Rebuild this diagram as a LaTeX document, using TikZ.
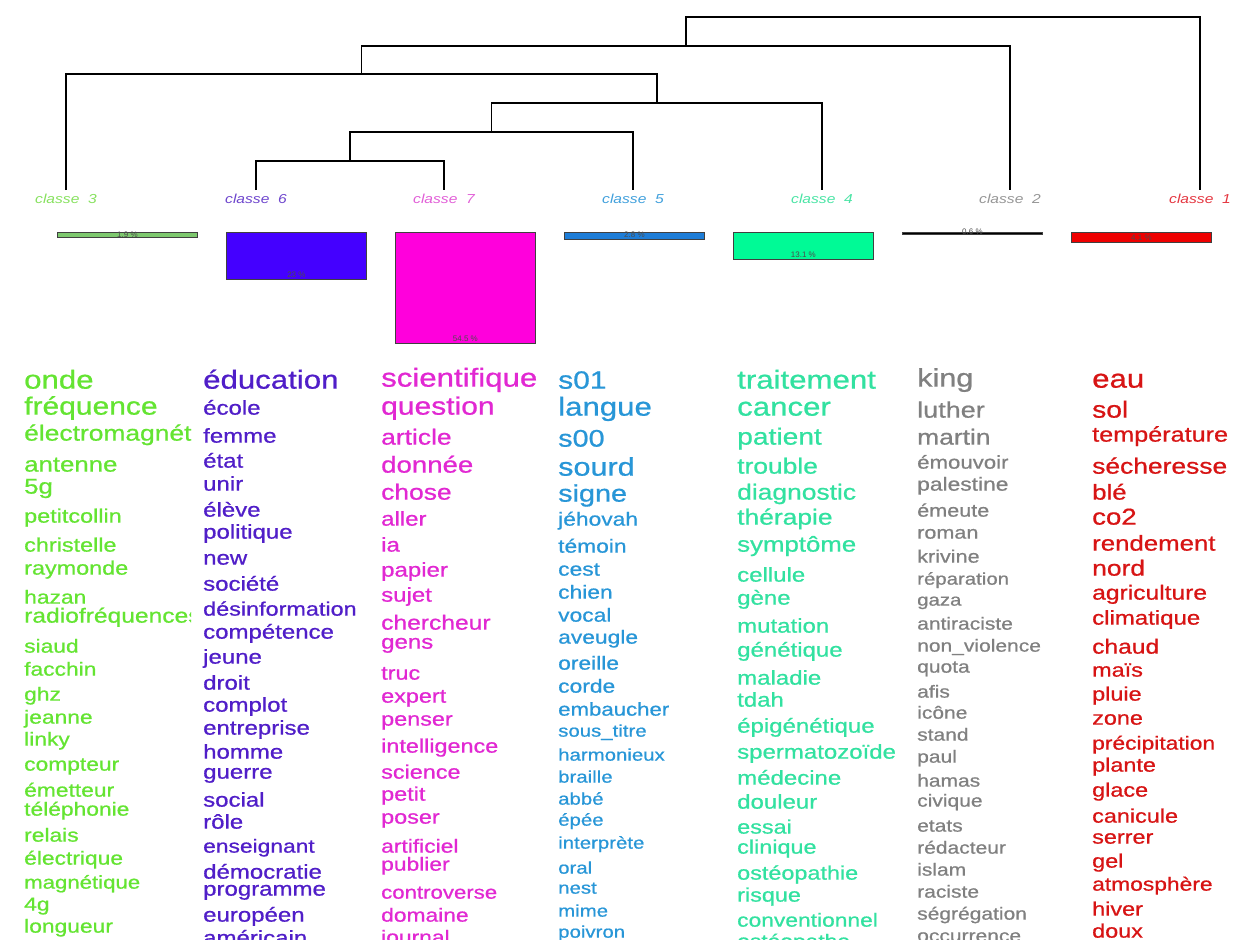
\documentclass[tikz,border=0pt]{standalone}
\usepackage{fontspec}
\setmainfont{Liberation Sans}
\newfontfamily\wfont{Liberation Sans}[FakeBold=0.7]
\definecolor{wc3}{RGB}{100,228,50}
\definecolor{wc6}{RGB}{80,30,200}
\definecolor{wc7}{RGB}{225,40,210}
\definecolor{wc5}{RGB}{40,150,215}
\definecolor{wc4}{RGB}{50,225,160}
\definecolor{wc2}{RGB}{128,128,128}
\definecolor{wc1}{RGB}{215,20,20}
\definecolor{lc3}{RGB}{135,225,95}
\definecolor{lc6}{RGB}{110,70,205}
\definecolor{lc7}{RGB}{225,95,215}
\definecolor{lc5}{RGB}{65,160,220}
\definecolor{lc4}{RGB}{75,228,165}
\definecolor{lc2}{RGB}{150,150,150}
\definecolor{lc1}{RGB}{228,55,65}
\definecolor{bc3}{RGB}{125,200,110}
\definecolor{bc6}{RGB}{68,0,255}
\definecolor{bc7}{RGB}{255,0,220}
\definecolor{bc5}{RGB}{30,125,215}
\definecolor{bc4}{RGB}{0,250,150}
\definecolor{bc1}{RGB}{238,0,0}
\tikzset{
  dend/.style={line width=1.2pt, black},
  word/.style={inner sep=0pt, anchor=mid west, yshift=-5pt},
  clabel/.style={inner sep=0pt, font=\fontsize{13}{13}\selectfont\itshape},
  barbox/.style={draw=black!75, line width=0.8pt, minimum width=140pt, inner sep=0pt, anchor=north west},
  pct/.style={inner sep=0pt, text=black!70, font=\fontsize{8}{8}\selectfont}
}
\newcommand\wordcol[4]{%
  \foreach \yy/\ss/\ww in {#4} {
    \node[word, text=#3, font=\fontsize{\ss}{\ss}\selectfont\wfont] (#1-\yy) at (#2,\yy) {\scalebox{1.2}[1]{\ww}};
  }}
\begin{document}
\begin{tikzpicture}[x=1pt,y=-1pt]
\useasboundingbox (0,0) rectangle (1240,940);
% dendrogram
\coordinate (l3) at (66,190);
\coordinate (l6) at (256,190);
\coordinate (l7) at (444,190);
\coordinate (l5) at (633,190);
\coordinate (l4) at (822,190);
\coordinate (l2) at (1010,190);
\coordinate (l1) at (1200,190);
\coordinate (ma) at (350,161);
\coordinate (mb) at (491.5,132);
\coordinate (mc) at (657,103);
\coordinate (md) at (361.5,74);
\coordinate (me) at (686,46);
\coordinate (mf) at (943,17);
\draw[dend] (l6) |- (ma) -| (l7);
\draw[dend] (ma) |- (mb) -| (l5);
\draw[dend] (mb) |- (mc) -| (l4);
\draw[dend] (l3) |- (md) -| (mc);
\draw[dend] (md) |- (me) -| (l2);
\draw[dend] (me) |- (mf) -| (l1);
% class labels
\node[clabel, text=lc3] (k3) at (66,199) {\scalebox{1.2}[1]{classe\ \ 3}};
\node[clabel, text=lc6] (k6) at (256,199) {\scalebox{1.2}[1]{classe\ \ 6}};
\node[clabel, text=lc7] (k7) at (444,199) {\scalebox{1.2}[1]{classe\ \ 7}};
\node[clabel, text=lc5] (k5) at (633,199) {\scalebox{1.2}[1]{classe\ \ 5}};
\node[clabel, text=lc4] (k4) at (822,199) {\scalebox{1.2}[1]{classe\ \ 4}};
\node[clabel, text=lc2] (k2) at (1010,199) {\scalebox{1.2}[1]{classe\ \ 2}};
\node[clabel, text=lc1] (k1) at (1200,199) {\scalebox{1.2}[1]{classe\ \ 1}};
% bars
\node[barbox, fill=bc3, minimum height=5pt] (b3) at (57,232) {};
\node[barbox, fill=bc6, minimum height=47pt] (b6) at (226,232) {};
\node[barbox, fill=bc7, minimum height=111pt] (b7) at (395,232) {};
\node[barbox, fill=bc5, minimum height=7pt] (b5) at (564,232) {};
\node[barbox, fill=bc4, minimum height=27pt] (b4) at (733,232) {};
\node[barbox, fill=black, minimum height=2pt] (b2) at (902,232) {};
\node[barbox, fill=bc1, minimum height=10pt] (b1) at (1071,232) {};
\node[pct] (p3) at (b3.center) {1.9 \%};
\node[pct, yshift=5pt] (p6) at (b6.south) {23 \%};
\node[pct, yshift=5pt] (p7) at (b7.south) {54.5 \%};
\node[pct] (p5) at ([yshift=1pt]b5.center) {2.8 \%};
\node[pct, yshift=5pt] (p4) at (b4.south) {13.1 \%};
\node[pct] (p2) at ([yshift=1.5pt]b2.center) {0.6 \%};
\node[pct, yshift=5pt] (p1) at (b1.south) {4.1 \%};
% words
\begin{scope}
\clip (0,340) rectangle (191,940);
\wordcol{c3}{24}{wc3}{381/26/onde, 407/25/fréquence, 433/22/électromagnétique, 464/21.5/antenne, 486/21.5/5g, 515/19.5/petitcollin, 544/19.5/christelle, 567/19.5/raymonde, 596/19/hazan, 615/20.5/radiofréquences, 645/19/siaud, 668/19/facchin, 693/19/ghz, 716/19/jeanne, 738/19/linky, 763/19/compteur, 789/19/émetteur, 808/19/téléphonie, 834/19/relais, 857/19/électrique, 881/18.5/magnétique, 903/19/4g, 925/19/longueur}
\end{scope}
\wordcol{c6}{203}{wc6}{381/26/éducation, 407/20/école, 435/20/femme, 460/20/état, 483/20/unir, 509/20/élève, 531/20/politique, 557/20/new, 583/20/société, 608/19.5/désinformation, 631/20/compétence, 656/20/jeune, 682/20/droit, 704/20/complot, 727/20/entreprise, 751/20/homme, 771/20/guerre, 799/20/social, 821/20/rôle, 845/19/enseignant, 871/20/démocratie, 888/20/programme, 914/20/européen, 937/20/américain}
\wordcol{c7}{381}{wc7}{379/26/scientifique, 407/25/question, 437/22/article, 465/23/donnée, 492/22/chose, 518/20/aller, 544/20/ia, 569/20/papier, 594/20/sujet, 622/20.5/chercheur, 641/20/gens, 672/19.5/truc, 695/19.5/expert, 718/19.5/penser, 745/19.5/intelligence, 771/19.5/science, 793/19.5/petit, 816/19.5/poser, 845/19/artificiel, 863/19/publier, 891/18.5/controverse, 914/19/domaine, 936/19/journal}
\wordcol{c5}{558}{wc5}{381/25/s01, 408/26/langue, 439/24/s00, 468/25.5/sourd, 494/24/signe, 518/19/jéhovah, 545/19/témoin, 568/19/cest, 591/19/chien, 614/19/vocal, 636/19/aveugle, 662/19/oreille, 685/19/corde, 708/18.5/embaucher, 729/17/sous\_titre, 753/17/harmonieux, 775/17/braille, 797/17/abbé, 818/17/épée, 841/17/interprète, 866/17/oral, 886/17/nest, 909/17/mime, 930/17/poivron}
\wordcol{c4}{737}{wc4}{381/26/traitement, 408/26/cancer, 437/23.5/patient, 466/22/trouble, 492/22/diagnostic, 517/22/thérapie, 544/21.5/symptôme, 574/20/cellule, 597/20/gène, 625/20/mutation, 649/20/génétique, 677/20/maladie, 699/20/tdah, 725/20/épigénétique, 751/20/spermatozoïde, 777/20/médecine, 801/20/douleur, 826/19.5/essai, 846/19.5/clinique, 872/19.5/ostéopathie, 894/19.5/risque, 919/19/conventionnel, 940/19/ostéopathe}
\wordcol{c2}{917}{wc2}{379/25.5/king, 410/22.5/luther, 437/22/martin, 461/18.5/émouvoir, 483/19/palestine, 509/18/émeute, 531/18/roman, 555/18/krivine, 577/17/réparation, 598/17/gaza, 622/17.5/antiraciste, 644/17.5/non\_violence, 665/17.5/quota, 690/17.5/afis, 711/17.5/icône, 733/17.5/stand, 755/17.5/paul, 779/17.5/hamas, 799/17.5/civique, 824/17.5/etats, 846/17.5/rédacteur, 868/17.5/islam, 890/17.5/raciste, 912/17.5/ségrégation, 934/17.5/occurrence}
\wordcol{c1}{1092}{wc1}{380/26/eau, 410/23.5/sol, 434/21/température, 466/22/sécheresse, 492/21.5/blé, 517/23/co2, 543/21.5/rendement, 568/22/nord, 592/20.5/agriculture, 617/20/climatique, 646/20.5/chaud, 669/19.5/maïs, 693/19.5/pluie, 717/19.5/zone, 742/19/précipitation, 764/19.5/plante, 789/19.5/glace, 815/19.5/canicule, 836/19.5/serrer, 860/19.5/gel, 883/19/atmosphère, 908/19.5/hiver, 930/19.5/doux}
\end{tikzpicture}
\end{document}
